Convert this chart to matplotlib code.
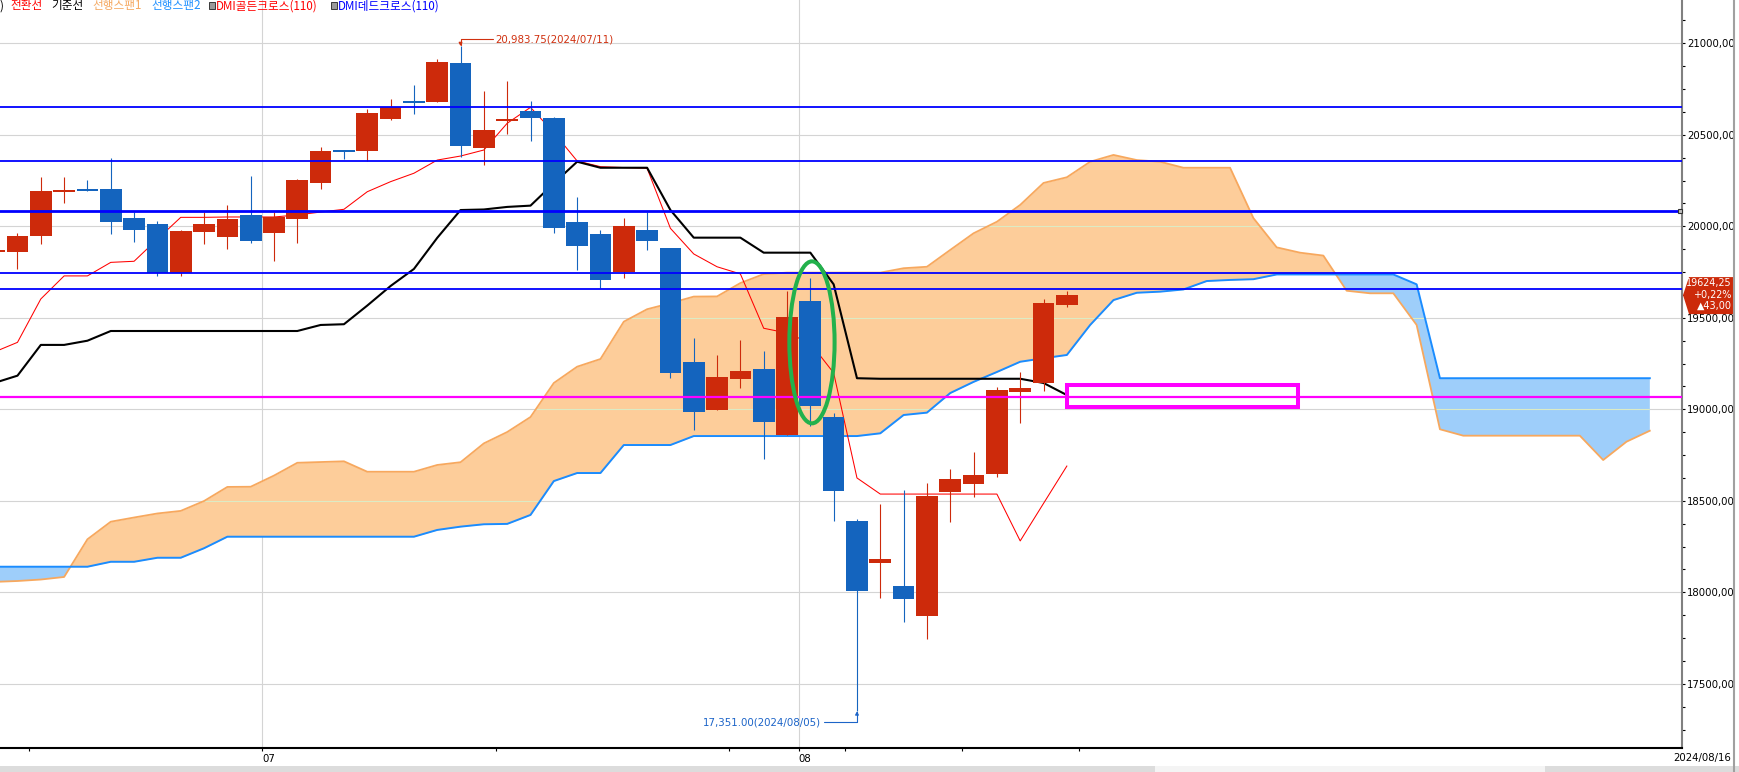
import numpy as np
import pandas as pd
import matplotlib.pyplot as plt
import matplotlib.patches as patches
from matplotlib.path import Path
from matplotlib.ticker import MultipleLocator, FuncFormatter
from matplotlib.transforms import IdentityTransform

# daily candles 2024/06/13 .. 2024/08/16, index 0 = 2024/07/01
dates = pd.bdate_range('2024-06-13', '2024-08-16')
first_idx = -12

opens = [19861, 19861, 19949, 20188, 20204, 20204, 20045, 20013, 19747, 19971, 19943, 20062,
         19965, 20040, 20238, 20417, 20413, 20586, 20682, 20679, 20892, 20430, 20578, 20630,
         20592, 20024, 19958, 19750, 19980, 19882, 19260, 18998, 19166, 19220, 18860,
         19592, 18958, 18390, 18160, 18035, 17871, 18548, 18592, 18647, 19095, 19144, 19570]
highs = [19880, 19963, 20271, 20271, 20253, 20375, 20077, 20031, 19982, 20077, 20116, 20277,
         20077, 20259, 20433, 20417, 20639, 20694, 20772, 20913, 20983.75, 20741, 20796, 20686,
         20599, 20160, 19980, 20045, 20078, 19882, 19390, 19297, 19379, 19319, 19647,
         19719, 18980, 18400, 18483, 18559, 18598, 18674, 18767, 19122, 19204, 19603, 19646]
lows = [19850, 19767, 19903, 20129, 20193, 19958, 19916, 19729, 19729, 19903, 19876, 19910,
        19812, 19910, 20204, 20368, 20359, 20581, 20614, 20679, 20380, 20337, 20506, 20466,
        19965, 19763, 19665, 19719, 19871, 19173, 18887, 18996, 19118, 18729, 18860,
        18909, 18390, 17351, 17969, 17838, 17745, 18384, 18521, 18630, 18925, 19100, 19560]
closes = [19870, 19947, 20193, 20198, 20193, 20025, 19982, 19747, 19974, 20013, 20040, 19921,
          20051, 20253, 20412, 20408, 20619, 20652, 20676, 20898, 20441, 20526, 20584, 20592,
          19991, 19894, 19707, 20002, 19921, 19200, 18987, 19177, 19210, 18931, 19505,
          19020, 18554, 18007, 18182, 17964, 18527, 18620, 18641, 19106, 19117, 19581.25, 19624.25]

# 전환선 / 기준선
tenkan = [19313, 19366, 19603, 19729, 19729, 19803, 19809, 19930, 20049, 20049, 20051, 20051,
          20051, 20062, 20078, 20093, 20189, 20244, 20290, 20362, 20384, 20417, 20563, 20650,
          20512, 20357, 20326, 20321, 20317, 19989, 19849, 19779, 19740, 19443, 19417,
          19362, 19199, 18625, 18537, 18537, 18537, 18537, 18537, 18537, 18281, 18486, 18690]
kijun = [19144, 19184, 19352, 19352, 19375, 19428, 19428, 19428, 19428, 19428, 19428, 19428,
         19428, 19428, 19461, 19465, 19567, 19674, 19767, 19937, 20089, 20092, 20106, 20113,
         20235, 20353, 20320, 20320, 20320, 20089, 19938, 19938, 19938, 19856, 19856,
         19856, 19683, 19170, 19167, 19167, 19167, 19167, 19167, 19167, 19167, 19144, 19078]

# 선행스팬1 / 선행스팬2 (already shifted forward), index -12 .. 59
span1 = [18057, 18062, 18070, 18084, 18290, 18386, 18409, 18431, 18445, 18499, 18576, 18577,
         18638, 18708, 18712, 18716, 18659, 18659, 18659, 18696, 18711, 18814, 18876, 18958,
         19144, 19233, 19275, 19479, 19547, 19580, 19616, 19617, 19690, 19739, 19747,
         19747, 19747, 19747, 19747, 19771, 19779, 19871, 19962, 20025, 20117, 20237, 20268,
         20353, 20390, 20362, 20353, 20320, 20320, 20320, 20045, 19885, 19856, 19840, 19648,
         19634, 19634, 19461, 18891, 18856, 18856, 18856, 18856, 18856, 18856, 18723, 18823, 18883]
span2 = [18140, 18140, 18140, 18140, 18140, 18167, 18167, 18189, 18189, 18241, 18304, 18304,
         18304, 18304, 18304, 18304, 18304, 18304, 18304, 18341, 18359, 18372, 18374, 18423,
         18608, 18652, 18652, 18805, 18805, 18805, 18854, 18854, 18854, 18854, 18854,
         18854, 18854, 18854, 18869, 18969, 18982, 19089, 19150, 19204, 19260, 19279, 19297,
         19461, 19597, 19637, 19643, 19655, 19701, 19707, 19711, 19737, 19737, 19737, 19737,
         19737, 19737, 19683, 19170, 19170, 19170, 19170, 19170, 19170, 19170, 19170, 19170, 19170]

levels_blue = [20652, 20358, 20084, 19747, 19659]
level_widths = [1.3, 1.3, 2.0, 1.3, 1.3]
level_magenta = 19066
zone = [34.0, 43.9, 19011, 19134]        # x0, x1, low, high
circle = [23.07, 19366, 1.94, 885]       # center x, center y, width, height

month_idx = [0, 23]
month_labels = ['07', '08']
week_idx = [-10, 10, 20, 25, 30, 35]

RED = '#CD2A0B'
BLUE = '#1464BE'
W, H = 1740, 772

fig = plt.figure(figsize=(W / 100, H / 100), dpi=100)
ax = fig.add_axes([0, 24 / H, 1682 / W, 748 / H])
ax.set_xlim(-11.75, 60.38)
ax.set_ylim(17149.5, 21236.6)

# grid
ax.set_axisbelow(True)
ax.yaxis.set_major_locator(MultipleLocator(500))
ax.yaxis.set_minor_locator(MultipleLocator(125))
ax.grid(axis='y', which='major', color='#d4d4d4', lw=0.8)
for m in month_idx:
    ax.axvline(m - 0.5, color='#d4d4d4', lw=0.8, zorder=0.5)

# cloud
xc = np.arange(first_idx, first_idx + len(span1))
s1 = np.array(span1, float)
s2 = np.array(span2, float)
f1 = ax.fill_between(xc, s1, s2, where=s1 >= s2, interpolate=True, color='#FDCD9A', lw=0, zorder=1)
f2 = ax.fill_between(xc, s1, s2, where=s1 < s2, interpolate=True, color='#9ECEFA', lw=0, zorder=1)
# faint grid showing through the cloud only
cloud_path = Path.make_compound_path(*(f1.get_paths() + f2.get_paths()))
for gv in range(17500, 21001, 500):
    gl = ax.axhline(gv, color='#dcebc4', lw=0.8, zorder=1.2)
    gl.set_clip_path(cloud_path, ax.transData)
ax.plot(xc, s1, color='#F7A85E', lw=1.3, zorder=2)
ax.plot(xc, s2, color='#1A8CFF', lw=1.4, zorder=2)

# conversion / base lines
x = np.arange(first_idx, first_idx + len(opens))
ax.plot(x, tenkan, color='#FF0000', lw=0.75, zorder=2.5)
ax.plot(x, kijun, color='black', lw=1.5, zorder=2.6)

# candles
o, h, l, c = (np.array(a, float) for a in (opens, highs, lows, closes))
col = np.where(c >= o, RED, BLUE)
ax.vlines(x, l, h, colors=col, lw=0.8, zorder=3)
body = np.abs(c - o)
body_h = np.maximum(body, 10)
body_lo = np.minimum(o, c) - (body_h - body) / 2
ax.bar(x, body_h, bottom=body_lo, width=0.93, color=col, lw=0, zorder=3.5)

# horizontal levels
for v, w in zip(levels_blue, level_widths):
    ax.axhline(v, color='#0000FF', lw=w, zorder=4)
ax.plot([ax.get_xlim()[1] - 0.08], [levels_blue[2]], marker='s', ms=3.5, mfc='#c0c0c0',
        mec='#303030', mew=0.8, clip_on=False, zorder=7)
ax.axhline(level_magenta, color='#FF00FF', lw=1.6, zorder=4)
ax.add_patch(patches.Rectangle((zone[0], zone[2]), zone[1] - zone[0], zone[3] - zone[2],
                               fill=False, ec='#FF00FF', lw=2.9, zorder=4.5))
ax.add_patch(patches.Ellipse((circle[0], circle[1]), circle[2], circle[3], fill=False,
                             ec='#22B14C', lw=2.9, zorder=5))

# high / low annotations
hi_i = int(np.argmax(h))
lo_i = int(np.argmin(l))
ax.annotate(f"{h[hi_i]:,.2f}({dates[hi_i]:%Y/%m/%d})", xy=(x[hi_i], h[hi_i]),
            xytext=(35, 7), textcoords='offset pixels', ha='left', va='center',
            fontsize=7.4, color='#D0300F', zorder=6,
            arrowprops=dict(arrowstyle='-|>', color='#D0300F', lw=0.8, shrinkA=0, shrinkB=0,
                            mutation_scale=5, relpos=(0, 0.5),
                            connectionstyle='angle,angleA=0,angleB=90,rad=0'))
ax.annotate(f"{l[lo_i]:,.2f}({dates[lo_i]:%Y/%m/%d})", xy=(x[lo_i], l[lo_i]),
            xytext=(-36, -11), textcoords='offset pixels', ha='right', va='center',
            fontsize=7.4, color='#1C64C8', zorder=6,
            arrowprops=dict(arrowstyle='-|>', color='#1C64C8', lw=0.8, shrinkA=0, shrinkB=0,
                            mutation_scale=5, relpos=(1, 0.5),
                            connectionstyle='angle,angleA=0,angleB=90,rad=0'))

# axes look
for s in ('top', 'left'):
    ax.spines[s].set_visible(False)
ax.spines['right'].set_color('#808080')
ax.spines['right'].set_linewidth(1.5)
ax.spines['bottom'].set_color('black')
ax.spines['bottom'].set_linewidth(1.5)
ax.yaxis.tick_right()
ax.yaxis.set_major_formatter(FuncFormatter(lambda v, p: f"{v:.2f}".replace('.', ',')))
ax.tick_params(axis='y', which='both', direction='out', length=2.3, width=0.8, pad=1.5,
               labelsize=7.3, colors='black')

tick_idx = sorted(week_idx + month_idx)
ax.set_xticks([i - 0.5 for i in tick_idx])
ax.set_xticklabels([month_labels[month_idx.index(i)] if i in month_idx else '' for i in tick_idx])
for lab in ax.get_xticklabels():
    lab.set_ha('left')
ax.tick_params(axis='x', direction='out', length=2.5, width=0.8, pad=1.5, labelsize=7.3)

# legend line at top
cjk = ['Noto Sans CJK KR', 'DejaVu Sans']
legend_items = [(")", 'black', 0), ("전환선", '#FF0000', 10), ("기준선", 'black', 51),
                ("선행스팬1", '#F5A860', 92), ("선행스팬2", '#1E90FF', 151),
                ("DMI골든크로스(110)", '#FF0000', 216), ("DMI데드크로스(110)", '#0000FF', 338)]
for txt, cl, px in legend_items:
    fig.text(px / W, 1 - 9.5 / H, txt, color=cl, fontsize=8.4, family=cjk, va='baseline')
for px in (209, 331):
    fig.patches.append(patches.Rectangle((px / W, 1 - 9 / H), 6 / W, 7 / H, fc='#9a9a9a',
                                         ec='#202020', lw=0.6, transform=fig.transFigure))

# current price tag
yp = ax.transData.transform((0, c[-1]))[1]
tag = patches.Polygon([(1683, yp), (1689, yp + 18), (1733, yp + 18), (1733, yp - 19), (1689, yp - 19)],
                      closed=True, fc='#CC2A0A', ec='none', transform=IdentityTransform())
fig.patches.append(tag)
chg = c[-1] - c[-2]
tag_lines = [f"{c[-1]:.2f}".replace('.', ','), f"+{chg / c[-2] * 100:.2f}%".replace('.', ','),
             f"▲{chg:.2f}".replace('.', ',')]
for k, s in enumerate(tag_lines):
    fig.text(1732, yp + 12 - 11.5 * k, s, color='white', fontsize=6.9, ha='right', va='center',
             transform=IdentityTransform())

fig.text(1731 / W, 1 - 758 / H, f"{dates[-1]:%Y/%m/%d}", fontsize=7.3, ha='right', va='center')

# frame bits
fig.add_artist(plt.Line2D([1734 / W, 1734 / W], [0, 1], color='#a0a0a0', lw=1.5))
fig.patches.append(patches.Rectangle((0, 0), 1, 6 / H, fc='#dcdcdc', ec='none',
                                     transform=fig.transFigure))
fig.patches.append(patches.Rectangle((1155 / W, 0), 390 / W, 6 / H, fc='#f4f4f4', ec='none',
                                     transform=fig.transFigure))

fig.savefig('out.png', dpi=100)
